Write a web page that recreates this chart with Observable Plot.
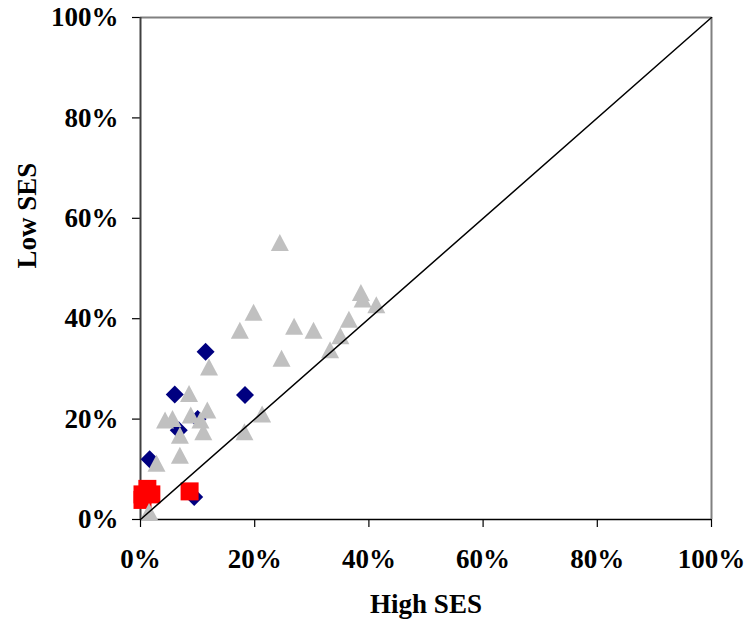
<!DOCTYPE html>
<html>
<head>
<meta charset="utf-8">
<script src="https://cdn.jsdelivr.net/npm/d3@7"></script>
<script src="https://cdn.jsdelivr.net/npm/@observablehq/plot@0.6"></script>
<style>
  html, body { margin: 0; padding: 0; background: #fff; }
</style>
</head>
<body>
<div id="chart"></div>
<script>
// Series 1: navy diamonds (High SES %, Low SES %)
const diamondX = [11.4, 6.0, 18.3, 10.0, 6.7, 1.6, 9.4];
const diamondY = [33.4, 24.9, 24.8, 20.0, 17.8, 12.0, 4.5];
// Series 2: red squares
const squareX = [0.35, 1.2, 1.9, 0.35, 8.6];
const squareY = [5.0, 6.1, 5.0, 3.9, 5.6];
// Series 3: gray triangles
const triX = [24.4, 38.6, 38.9, 41.3, 36.5, 35.0, 33.2, 19.8, 17.4, 26.9, 30.3, 24.7, 12.0,
              8.5, 21.3, 18.2, 11.7, 10.5, 11.0, 8.8, 5.6, 4.3, 6.9, 6.9, 2.8, 1.5];
const triY = [55.2, 45.2, 43.9, 42.8, 39.9, 36.6, 33.8, 41.3, 37.7, 38.5, 37.7, 32.1, 30.4,
              25.1, 21.0, 17.5, 21.8, 19.8, 17.5, 20.8, 20.1, 19.8, 16.8, 12.8, 11.2, 1.6];
// Reference diagonal (equality line)
const diagX = [0, 100];
const diagY = [0, 100];
const ticks = [0, 20, 40, 60, 80, 100];
const xTitle = "High SES";
const yTitle = "Low SES";

const toRows = (xs, ys) => xs.map((x, i) => ({x, y: ys[i]}));
const diamonds = toRows(diamondX, diamondY);
const squares = toRows(squareX, squareY);
const triangles = toRows(triX, triY);
const diag = toRows(diagX, diagY);

const symTriangle = {draw(ctx) { ctx.moveTo(0, -8.5); ctx.lineTo(9, 8.5); ctx.lineTo(-9, 8.5); ctx.closePath(); }};
const symDiamond = {draw(ctx) { ctx.moveTo(0, -9); ctx.lineTo(9, 0); ctx.lineTo(0, 9); ctx.lineTo(-9, 0); ctx.closePath(); }};
const symSquare = {draw(ctx) { ctx.rect(-9, -9, 18, 18); }};

const pct = d => d + "%";

const chart = Plot.plot({
  width: 748,
  height: 623,
  marginLeft: 140,
  marginRight: 37,
  marginTop: 17,
  marginBottom: 104,
  style: {fontFamily: "'Liberation Serif', 'Times New Roman', serif", fontSize: "27px", fontWeight: "bold", background: "#fff", color: "#000"},
  x: {domain: [0, 100], ticks: ticks, tickFormat: pct},
  y: {domain: [0, 100], ticks: ticks, tickFormat: pct},
  marks: [
    Plot.axisX({ticks: ticks, tickFormat: pct, tickSize: 8, tickPadding: 21, label: null, stroke: "#000", strokeWidth: 1.2}),
    Plot.axisY({ticks: ticks, tickFormat: pct, tickSize: 8, tickPadding: 14, label: null, stroke: "#000", strokeWidth: 1.2}),
    Plot.ruleY([100], {stroke: "#808080", strokeWidth: 2}),
    Plot.ruleX([100], {stroke: "#808080", strokeWidth: 2}),
    Plot.ruleX([0], {stroke: "#404040", strokeWidth: 2}),
    Plot.ruleY([0], {stroke: "#000", strokeWidth: 1.5}),
    Plot.dot(diamonds, {x: "x", y: "y", symbol: symDiamond, fill: "#000080", stroke: "none"}),
    Plot.dot(squares, {x: "x", y: "y", symbol: symSquare, fill: "#FF0000", stroke: "none"}),
    Plot.dot(triangles, {x: "x", y: "y", symbol: symTriangle, fill: "#C0C0C0", stroke: "none"}),
    Plot.line(diag, {x: "x", y: "y", stroke: "#000", strokeWidth: 1.5}),
    Plot.text([xTitle], {frameAnchor: "bottom", dy: 85, text: d => d, lineAnchor: "middle", fontSize: 27, fontWeight: "bold"}),
    Plot.text([yTitle], {frameAnchor: "left", dx: -113, rotate: -90, text: d => d, lineAnchor: "middle", fontSize: 27, fontWeight: "bold"})
  ]
});
document.getElementById("chart").appendChild(chart);
</script>
</body>
</html>
